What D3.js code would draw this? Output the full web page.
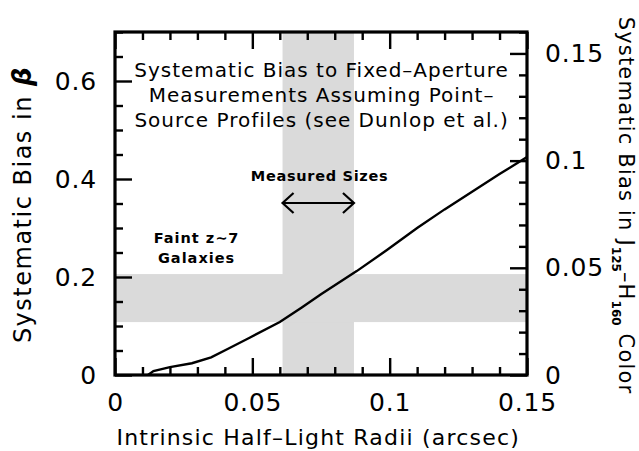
<!DOCTYPE html>
<html>
<head>
<meta charset="utf-8">
<script src="https://cdn.jsdelivr.net/npm/d3@7"></script>
<style>
  body { margin: 0; background: #fff; }
  text { font-family: "DejaVu Sans", sans-serif; fill: #000; }
</style>
</head>
<body>
<div id="chart"></div>
<script>
// curve: intrinsic half-light radius (arcsec) vs systematic bias in beta
var radii = [0.012, 0.014, 0.020, 0.028, 0.035, 0.041, 0.049, 0.060, 0.068, 0.075, 0.088, 0.099, 0.110, 0.120, 0.130, 0.140, 0.150];
var bias  = [0.000, 0.008, 0.016, 0.024, 0.036, 0.053, 0.076, 0.108, 0.138, 0.165, 0.212, 0.255, 0.300, 0.338, 0.374, 0.410, 0.445];

// shaded regions
var sizeBand = [0.061, 0.087];   // measured sizes (x)
var betaBand = [0.108, 0.206];   // faint z~7 galaxies (y)

// tick values
var xMajor = [0, 0.05, 0.1, 0.15];
var yMajor = [0, 0.2, 0.4, 0.6];
var y2Major = [0, 0.05, 0.1, 0.15];

var titleLines = ["Systematic Bias to Fixed\u2013Aperture", "Measurements Assuming Point\u2013", "Source Profiles (see Dunlop et al.)"];

// set the dimensions and margins of the graph
var margin = {top: 32, right: 112, bottom: 76, left: 115},
    width = 639 - margin.left - margin.right,
    height = 451 - margin.top - margin.bottom;

var svg = d3.select("#chart")
  .append("svg")
    .attr("width", 639)
    .attr("height", 451)
  .append("g")
    .attr("transform", "translate(" + margin.left + "," + margin.top + ")");

var x = d3.scaleLinear().domain([0, 0.15]).range([0, width]);
var y = d3.scaleLinear().domain([0, 0.7]).range([height, 0]);
var y2 = d3.scaleLinear().domain([0, 0.16]).range([height, 0]);

var fmt = function(d) { return d3.format(".2~f")(d); };
var minorTicks = function(step, max, skip) {
  var out = [];
  for (var v = step; v <= max + 1e-9; v += step) {
    var r = Math.round(v * 1000) / 1000;
    if (Math.abs(r / skip - Math.round(r / skip)) > 1e-6) out.push(r);
  }
  return out;
};

//shaded bands
svg.append("rect")
  .attr("x", x(sizeBand[0]))
  .attr("width", x(sizeBand[1]) - x(sizeBand[0]))
  .attr("y", 0)
  .attr("height", height)
  .style("fill", "#dadada");

svg.append("rect")
  .attr("x", 0)
  .attr("width", width)
  .attr("y", y(betaBand[1]))
  .attr("height", y(betaBand[0]) - y(betaBand[1]))
  .style("fill", "#dadada");

//the curve
var pts = radii.map(function(r, i) { return [r, bias[i]]; });
svg.append("path")
  .datum(pts)
  .attr("d", d3.line().x(function(d) { return x(d[0]); }).y(function(d) { return y(d[1]); }))
  .style("fill", "none")
  .style("stroke", "#000")
  .style("stroke-width", 2.4);

//annotation text
svg.selectAll(".title")
  .data(titleLines)
  .enter().append("text")
    .attr("x", x(0.0752))
    .attr("y", function(d, i) { return 38 + i * 25; })
    .attr("dy", "0.35em")
    .attr("text-anchor", "middle")
    .style("font-size", "20px")
    .style("letter-spacing", "1px")
    .text(function(d) { return d; });

svg.append("text")
  .attr("x", x(0.0745))
  .attr("y", 144)
  .attr("dy", "0.35em")
  .attr("text-anchor", "middle")
  .style("font-size", "14.5px")
  .style("font-weight", "bold")
  .style("letter-spacing", "0.7px")
  .text("Measured Sizes");

//double arrow
var ay = y(0.351), ax0 = x(sizeBand[0]), ax1 = x(sizeBand[1]);
svg.append("path")
  .attr("d", "M" + ax0 + "," + ay + "H" + ax1 +
             "M" + (ax0 + 11) + "," + (ay - 10) + "L" + ax0 + "," + ay + "L" + (ax0 + 11) + "," + (ay + 10) +
             "M" + (ax1 - 11) + "," + (ay - 10) + "L" + ax1 + "," + ay + "L" + (ax1 - 11) + "," + (ay + 10))
  .style("fill", "none")
  .style("stroke", "#000")
  .style("stroke-width", 2.2);

svg.append("text")
  .attr("x", x(0.0297))
  .attr("y", 206)
  .attr("dy", "0.35em")
  .attr("text-anchor", "middle")
  .style("font-size", "14.5px")
  .style("font-weight", "bold")
  .style("letter-spacing", "1px")
  .text("Faint z\u223c7");

svg.append("text")
  .attr("x", x(0.0297))
  .attr("y", 226)
  .attr("dy", "0.35em")
  .attr("text-anchor", "middle")
  .style("font-size", "14.5px")
  .style("font-weight", "bold")
  .style("letter-spacing", "1px")
  .text("Galaxies");

//axes
var tickLen = 17, minorLen = 8;

var bottom = svg.append("g")
  .attr("transform", "translate(0," + height + ")")
  .call(d3.axisBottom(x).tickValues(xMajor).tickSize(-tickLen).tickFormat(fmt));
bottom.selectAll("text").attr("y", 27).attr("dy", "0.35em");

svg.append("g")
  .attr("transform", "translate(0," + height + ")")
  .call(d3.axisBottom(x).tickValues(minorTicks(0.01, 0.15, 0.05)).tickSize(-minorLen).tickFormat(""));

svg.append("g")
  .call(d3.axisTop(x).tickValues(xMajor).tickSize(-tickLen).tickFormat(""));
svg.append("g")
  .call(d3.axisTop(x).tickValues(minorTicks(0.01, 0.15, 0.05)).tickSize(-minorLen).tickFormat(""));

svg.append("g")
  .call(d3.axisLeft(y).tickValues(yMajor).tickSize(-tickLen).tickPadding(18).tickFormat(fmt));
svg.append("g")
  .call(d3.axisLeft(y).tickValues(minorTicks(0.05, 0.7, 0.2)).tickSize(-minorLen).tickFormat(""));

svg.append("g")
  .attr("transform", "translate(" + width + ",0)")
  .call(d3.axisRight(y2).tickValues(y2Major).tickSize(-tickLen).tickPadding(18).tickFormat(fmt));
svg.append("g")
  .attr("transform", "translate(" + width + ",0)")
  .call(d3.axisRight(y2).tickValues(minorTicks(0.01, 0.16, 0.05)).tickSize(-minorLen).tickFormat(""));

svg.selectAll(".tick text")
  .style("font-size", "25px")
  .style("font-family", "'DejaVu Sans', sans-serif")
  .style("letter-spacing", "0.8px");
svg.selectAll(".domain").remove();
svg.selectAll(".tick line").style("stroke", "#000").style("stroke-width", 2.4);

//frame
svg.append("rect")
  .attr("width", width)
  .attr("height", height)
  .style("fill", "none")
  .style("stroke", "#000")
  .style("stroke-width", 3.2);

//axis titles
svg.append("text")
  .attr("x", x(0.074))
  .attr("y", height + 62)
  .attr("dy", "0.35em")
  .attr("text-anchor", "middle")
  .style("font-size", "22px")
  .style("letter-spacing", "1.2px")
  .text("Intrinsic Half\u2013Light Radii (arcsec)");

var yl = svg.append("text")
  .attr("transform", "translate(-92," + (height / 2 + 1) + ") rotate(-90)")
  .attr("dy", "0.35em")
  .attr("text-anchor", "middle")
  .style("font-size", "24px")
  .style("letter-spacing", "1.5px");
yl.append("tspan").text("Systematic Bias in ");
yl.append("tspan").text("\u03b2").style("font-weight", "bold").style("font-style", "italic").style("font-size", "26px");

var yr = svg.append("text")
  .attr("transform", "translate(" + (width + 99) + "," + (height / 2 + 2) + ") rotate(90)")
  .attr("dy", "0.35em")
  .attr("text-anchor", "middle")
  .style("font-size", "21px")
  .style("letter-spacing", "1.2px");
yr.append("tspan").text("Systematic Bias in J");
yr.append("tspan").text("125").attr("dy", "0.55em").style("font-size", "12px").style("font-weight", "bold").style("letter-spacing", "0px");
yr.append("tspan").text("\u2013H").attr("dy", "-0.33em");
yr.append("tspan").text("160").attr("dy", "0.55em").style("font-size", "12px").style("font-weight", "bold").style("letter-spacing", "0px");
yr.append("tspan").text(" Color").attr("dy", "-0.33em");
</script>
</body>
</html>
